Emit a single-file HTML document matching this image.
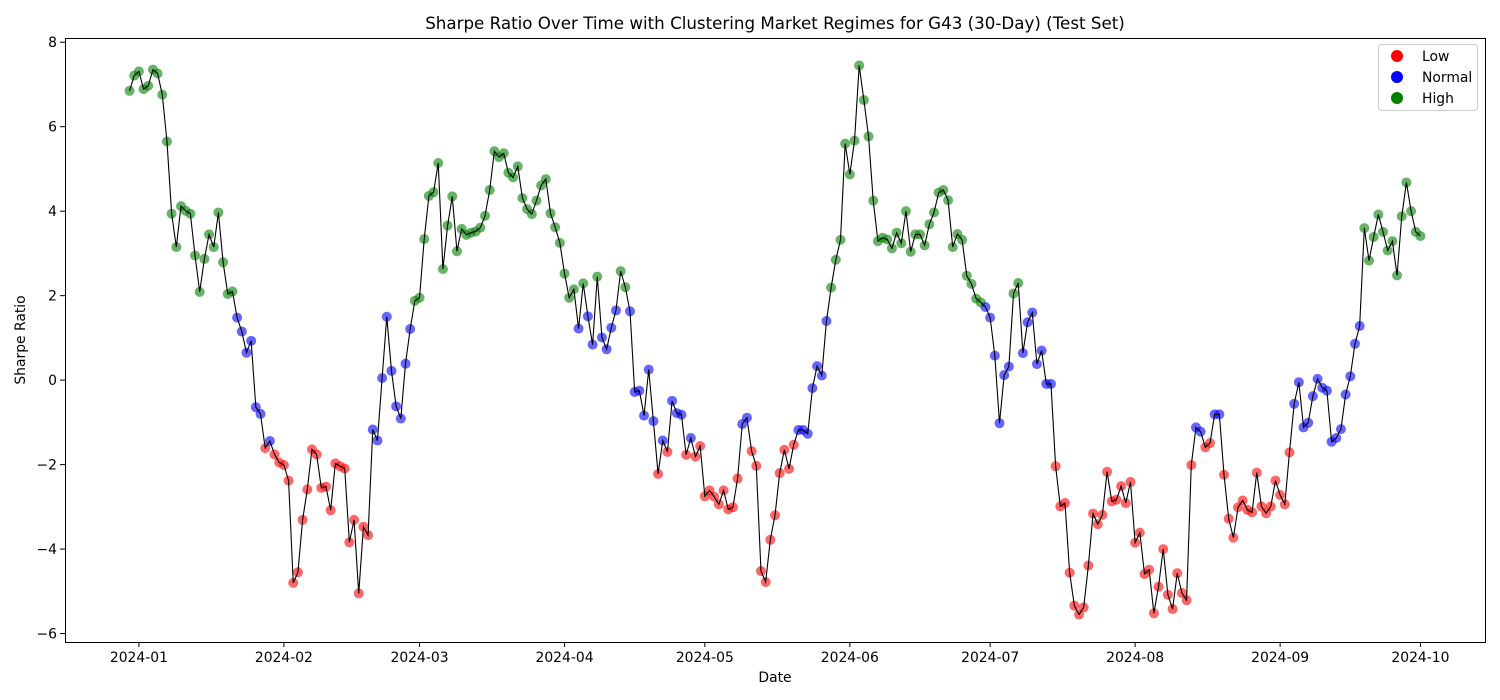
<!DOCTYPE html>
<html><head><meta charset="utf-8"><style>
html,body{margin:0;padding:0;background:#fff;}
svg{display:block;font-family:"DejaVu Sans","Liberation Sans",sans-serif;}
</style></head><body>
<svg id="chart" width="1500" height="700" viewBox="0 0 1500 700" xmlns="http://www.w3.org/2000/svg">
<rect x="0" y="0" width="1500" height="700" fill="#fff"/>
<text x="775" y="29" font-size="16.7" text-anchor="middle" fill="#000">Sharpe Ratio Over Time with Clustering Market Regimes for G43 (30-Day) (Test Set)</text>
<g id="marks"></g>
<rect x="65.5" y="38.5" width="1420" height="604" fill="none" stroke="#000" stroke-width="1"/>
<g id="axes"></g>
<text x="775" y="682" font-size="13.9" text-anchor="middle">Date</text>
<text x="0" y="0" font-size="13.9" text-anchor="middle" transform="translate(25,340) rotate(-90)">Sharpe Ratio</text>
<g>
<rect x="1378.5" y="44.5" width="99" height="66" rx="3" fill="#fff" fill-opacity="0.8" stroke="#ccc"/>
<g><circle cx="1397" cy="56" r="6" fill="#ff0000"/><text x="1422" y="61" font-size="13.9">Low</text></g>
<g><circle cx="1397" cy="77" r="6" fill="#0000ff"/><text x="1422" y="82" font-size="13.9">Normal</text></g>
<g><circle cx="1397" cy="98" r="6" fill="#008000"/><text x="1422" y="103" font-size="13.9">High</text></g>
</g>
</svg>
<script>
// Data: daily values starting 2023-12-30
const startDate = "2023-12-30";
const sharpeValues = [
6.85,7.21,7.31,6.89,6.97,7.35,7.26,6.76,5.65,3.94,3.15,4.12,4.01,3.94,2.95,2.09,2.87,3.45,3.15,3.97,
2.79,2.04,2.10,1.48,1.15,0.65,0.93,-0.64,-0.80,-1.61,-1.44,-1.76,-1.95,-2.01,-2.38,-4.80,-4.55,-3.31,-2.59,-1.64,
-1.76,-2.55,-2.52,-3.08,-1.97,-2.04,-2.09,-3.84,-3.31,-5.05,-3.47,-3.67,-1.17,-1.43,0.05,1.50,0.22,-0.62,-0.91,0.39,
1.21,1.88,1.95,3.34,4.36,4.45,5.14,2.63,3.66,4.35,3.05,3.58,3.44,3.49,3.52,3.61,3.89,4.50,5.42,5.28,
5.37,4.91,4.80,5.06,4.31,4.05,3.93,4.25,4.61,4.76,3.95,3.62,3.25,2.52,1.95,2.15,1.22,2.29,1.51,0.84,
2.45,1.01,0.73,1.24,1.65,2.58,2.20,1.63,-0.28,-0.25,-0.84,0.25,-0.97,-2.22,-1.43,-1.70,-0.49,-0.78,-0.82,-1.77,
-1.37,-1.81,-1.56,-2.75,-2.61,-2.76,-2.94,-2.61,-3.06,-3.01,-2.33,-1.04,-0.89,-1.68,-2.03,-4.52,-4.78,-3.78,-3.20,-2.20,
-1.65,-2.10,-1.53,-1.18,-1.18,-1.27,-0.19,0.33,0.11,1.40,2.19,2.85,3.32,5.60,4.87,5.67,7.45,6.63,5.77,4.25,
3.29,3.37,3.33,3.12,3.49,3.24,4.00,3.04,3.45,3.45,3.19,3.69,3.97,4.44,4.50,4.26,3.15,3.46,3.32,2.47,
2.28,1.93,1.84,1.73,1.48,0.58,-1.02,0.12,0.32,2.05,2.30,0.64,1.37,1.60,0.38,0.70,-0.09,-0.09,-2.04,-2.99,
-2.91,-4.56,-5.34,-5.55,-5.38,-4.39,-3.16,-3.41,-3.19,-2.17,-2.87,-2.83,-2.51,-2.91,-2.41,-3.85,-3.61,-4.59,-4.49,-5.52,
-4.89,-4.00,-5.08,-5.42,-4.57,-5.04,-5.21,-2.01,-1.12,-1.22,-1.59,-1.49,-0.81,-0.81,-2.24,-3.28,-3.73,-3.01,-2.85,-3.07,
-3.13,-2.19,-2.99,-3.15,-2.99,-2.38,-2.72,-2.94,-1.71,-0.56,-0.05,-1.12,-1.01,-0.38,0.03,-0.18,-0.25,-1.46,-1.37,-1.16,
-0.34,0.09,0.86,1.28,3.60,2.83,3.39,3.92,3.51,3.07,3.29,2.48,3.88,4.68,4.00,3.51,3.41
];
// Regime runs (label, number of consecutive days): L=Low, N=Normal, H=High
const regimeRunLabels = ["H","N","L","N","L","N","H","N","H","N","H","N","H","N","L","N","L","N","L","N","L","N","L","N","H","N","H","N","L","N","L","N","L","N","H"];
const regimeRunLengths = [23,6,1,1,21,9,35,1,1,2,1,4,2,6,1,1,1,3,1,1,10,2,10,7,33,6,2,7,30,2,2,2,15,15,13];
const monthTicks = ["2024-01","2024-02","2024-03","2024-04","2024-05","2024-06","2024-07","2024-08","2024-09","2024-10"];
const yTicks = [-6,-4,-2,0,2,4,6,8];
const regimeColors = {L:"#ff0000",N:"#0000ff",H:"#008000"};

const regimes=[];
regimeRunLabels.forEach((r,k)=>{for(let j=0;j<regimeRunLengths[k];j++)regimes.push(r);});

const NS="http://www.w3.org/2000/svg";
const PL=65, PR=1485, PT=38, PB=642;
const DAY=86400000;
const t0=Date.parse(startDate+"T00:00:00Z");
const n=sharpeValues.length;
const xMin=0-0.05*(n-1), xMax=(n-1)+0.05*(n-1);
const vMin=Math.min(...sharpeValues), vMax=Math.max(...sharpeValues);
const yMin=vMin-0.05*(vMax-vMin), yMax=vMax+0.05*(vMax-vMin);
function xScale(dayIdx){return PL+(dayIdx-xMin)/(xMax-xMin)*(PR-PL);}
function yScale(v){return PB-(v-yMin)/(yMax-yMin)*(PB-PT);}
function mk(tag,attrs,parent){const e=document.createElementNS(NS,tag);for(const k in attrs)e.setAttribute(k,attrs[k]);parent.appendChild(e);return e;}

const axes=document.getElementById("axes");
monthTicks.forEach(m=>{
  const d=(Date.parse(m+"-01T00:00:00Z")-t0)/DAY;
  const x=xScale(d);
  const tk=mk("line",{x1:x,x2:x,y1:PB,y2:PB+5,stroke:"#000","stroke-width":1},axes);
  
  
  const tx=mk("text",{x:x,y:PB+20,"font-size":13.9,"text-anchor":"middle"},axes);
  tx.textContent=m;
  
  
});
yTicks.forEach(v=>{
  const y=yScale(v);
  const tk=mk("line",{x1:PL-5,x2:PL,y1:y,y2:y,stroke:"#000","stroke-width":1},axes);
  
  
  const tx=mk("text",{x:PL-8,y:y+5,"font-size":13.9,"text-anchor":"end"},axes);
  tx.textContent=String(v).replace("-","\u2212");
  
  
});

const marks=document.getElementById("marks");
sharpeValues.forEach((v,i)=>{
  const c=mk("circle",{cx:xScale(i),cy:yScale(v),r:5,fill:regimeColors[regimes[i]]||"#0000ff","fill-opacity":0.6},marks);
  
  
});
const pts=sharpeValues.map((v,i)=>xScale(i).toFixed(2)+","+yScale(v).toFixed(2)).join(" ");
const line=mk("polyline",{points:pts,fill:"none",stroke:"#000","stroke-width":1.1},marks);


</script>
</body></html>
